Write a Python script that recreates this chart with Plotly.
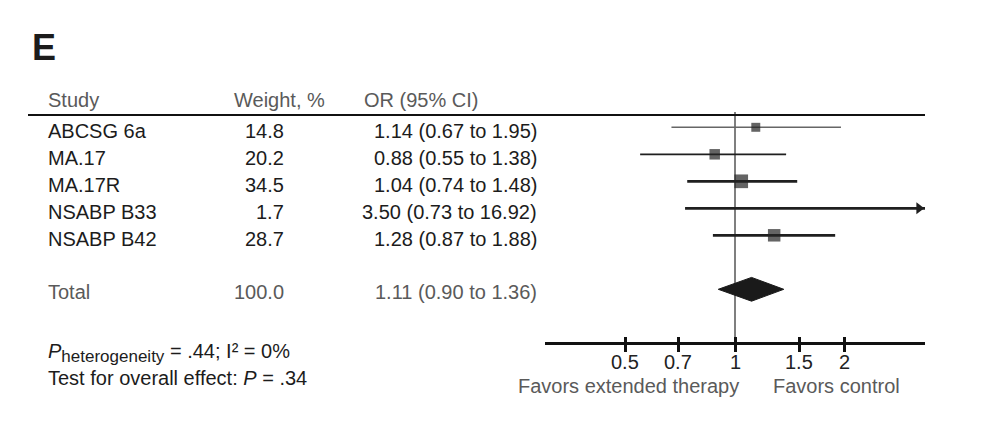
import math
import plotly.graph_objects as go

# ---------------- data ----------------
studies = ["ABCSG 6a", "MA.17", "MA.17R", "NSABP B33", "NSABP B42"]
weights = [14.8, 20.2, 34.5, 1.7, 28.7]
or_est = [1.14, 0.88, 1.04, 3.50, 1.28]
ci_lo = [0.67, 0.55, 0.74, 0.73, 0.87]
ci_hi = [1.95, 1.38, 1.48, 16.92, 1.88]

total_label = "Total"
total_weight = 100.0
total_est = 1.11
total_lo = 0.90
total_hi = 1.36

tick_vals = [0.5, 0.7, 1, 1.5, 2]
tick_text = ["0.5", "0.7", "1", "1.5", "2"]

panel_letter = "E"
headers = ["Study", "Weight, %", "OR (95% CI)"]
het_text = ("<i>P</i><sub><span style='font-size:17px'>heterogeneity</span></sub>"
            " = .44; I² = 0%")
overall_text = "Test for overall effect: <i>P</i> = .34"
favors_left = "Favors extended therapy"
favors_right = "Favors control"

# ---------------- layout helpers ----------------
W, H = 988, 422
OFF = 8                                   # page margin of the browser
FONT = "Liberation Sans, Arial, sans-serif"
FS = 20
DARK = "#1c1c1c"
GRAY = "#5a5a5a"
ROW0_PX, ROW_PX = 127.3, 27.0             # reference pixel of row 0, row spacing


def prow(py):
    """reference y pixel -> row units"""
    return (py - ROW0_PX) / ROW_PX


def pxx(px):
    """reference x pixel -> paper fraction"""
    return (px - OFF) / W


def pyy(py):
    """reference y pixel -> paper fraction"""
    return 1 - (py - OFF) / H


AX_L, AX_R = 545, 925                     # reference pixels of the axis ends
XR = 0.52                                 # log10 half range of the x axis
PX_PER_LOG = (AX_R - AX_L) / (2 * XR)
rows = list(range(len(studies)))
total_row = len(studies) + 1
axis_row = total_row + 2

fig = go.Figure()

# vertical line at OR = 1
fig.add_trace(go.Scatter(x=[1, 1], y=[prow(112), axis_row], mode="lines",
                         line=dict(color="#555555", width=1.5),
                         hoverinfo="skip", showlegend=False))

# confidence-interval lines (clipped by the plot area)
ci_colors = ["#666666", "#1f1f1f", "#1f1f1f", "#1f1f1f", "#1f1f1f"]
ci_widths = [1.6, 1.7, 2.8, 2.8, 2.8]
xmax = 10 ** XR
ARROW = 10.4                              # arrow-head marker size
for i, r in enumerate(rows):
    fig.add_trace(go.Scatter(x=[ci_lo[i], ci_hi[i]], y=[r, r], mode="lines",
                             line=dict(color=ci_colors[i], width=ci_widths[i]),
                             hoverinfo="skip", showlegend=False))
    if ci_hi[i] > xmax:
        # arrow head with its tip on the right end of the axis
        tip_back = (ARROW / 2) * 2 / math.sqrt(3) / PX_PER_LOG
        fig.add_trace(go.Scatter(x=[10 ** (XR - tip_back)], y=[r], mode="markers",
                                 marker=dict(symbol="triangle-right", size=ARROW,
                                             color=ci_colors[i], line=dict(width=0)),
                                 cliponaxis=False, hoverinfo="skip", showlegend=False))

# squares sized by weight
fig.add_trace(go.Scatter(x=or_est, y=rows, mode="markers",
                         marker=dict(symbol="square", color="#222222",
                                     size=[2.33 * math.sqrt(w) for w in weights],
                                     line=dict(width=0)),
                         cliponaxis=True, hoverinfo="skip", showlegend=False))

# pooled diamond
dh = 0.44
fig.add_trace(go.Scatter(x=[total_lo, total_est, total_hi, total_est, total_lo],
                         y=[total_row, total_row - dh, total_row, total_row + dh, total_row],
                         mode="lines", fill="toself", fillcolor="#1a1a1a",
                         line=dict(color="#1a1a1a", width=1),
                         hoverinfo="skip", showlegend=False))

# top rule
fig.add_shape(type="line", xref="paper", yref="y", x0=pxx(28), x1=pxx(925),
              y0=prow(115), y1=prow(115), line=dict(color="#111111", width=2.2))

ann = []


def txt(x, y, s, anchor="left", color=DARK, size=FS, xref="paper"):
    ann.append(dict(x=x, y=y, xref=xref, yref="y", text=s, showarrow=False,
                    xanchor=anchor, yanchor="middle",
                    font=dict(family=FONT, size=size, color=color)))


# panel letter
ann.append(dict(x=pxx(30), y=pyy(47), xref="paper", yref="paper",
                text="<b>" + panel_letter + "</b>", showarrow=False,
                xanchor="left", yanchor="middle",
                font=dict(family=FONT, size=36, color=DARK)))

# headers
txt(pxx(46), prow(100), headers[0], color=GRAY)
txt(pxx(232), prow(100), headers[1], color=GRAY)
txt(pxx(362), prow(100), headers[2], color=GRAY)

# study rows
for i, r in enumerate(rows):
    ypx = ROW0_PX + ROW_PX * r + 3.7
    txt(pxx(46), prow(ypx), studies[i])
    txt(pxx(286), prow(ypx), f"{weights[i]:.1f}", anchor="right")
    txt(pxx(539), prow(ypx), f"{or_est[i]:.2f} ({ci_lo[i]:.2f} to {ci_hi[i]:.2f})",
        anchor="right")

ypx = ROW0_PX + ROW_PX * total_row + 3.0
txt(pxx(46), prow(ypx), total_label, color=GRAY)
txt(pxx(286), prow(ypx), f"{total_weight:.1f}", anchor="right", color=GRAY)
txt(pxx(539), prow(ypx), f"{total_est:.2f} ({total_lo:.2f} to {total_hi:.2f})",
    anchor="right", color=GRAY)

# bottom-left statistics
txt(pxx(46), prow(353), het_text)
txt(pxx(46), prow(377.5), overall_text)

# tick labels placed on the log axis
for v, t in zip(tick_vals, tick_text):
    txt(math.log10(v), prow(361.5), t, anchor="center", color="#222222", xref="x")

# favors labels
txt(pxx(628), prow(386), favors_left, anchor="center", color=GRAY)
txt(pxx(836.5), prow(386), favors_right, anchor="center", color=GRAY)

axis_pos = pyy(ROW0_PX + ROW_PX * axis_row)

fig.update_layout(
    width=W, height=H, margin=dict(l=0, r=0, t=0, b=0),
    paper_bgcolor="white", plot_bgcolor="white",
    annotations=ann,
    xaxis=dict(type="log", range=[-XR, XR], domain=[pxx(AX_L), pxx(AX_R)],
               anchor="free", position=axis_pos,
               showline=True, linecolor="#111111", linewidth=3,
               ticks="outside", ticklen=6.5, tickwidth=2.5, tickcolor="#111111",
               tickvals=tick_vals, showticklabels=False,
               showgrid=False, zeroline=False, fixedrange=True),
    xaxis2=dict(type="log", range=[-XR, XR], overlaying="x",
                anchor="free", position=axis_pos,
                showline=False, ticks="inside", ticklen=6.5, tickwidth=2.5,
                tickcolor="#111111", tickvals=tick_vals, showticklabels=False,
                showgrid=False, zeroline=False, fixedrange=True),
    yaxis=dict(range=[prow(H + OFF), prow(OFF)], domain=[0, 1], visible=False,
               fixedrange=True),
    showlegend=False,
)

# invisible trace that activates the overlay axis carrying the upper tick halves
fig.add_trace(go.Scatter(x=[1], y=[axis_row], xaxis="x2", mode="markers",
                         marker=dict(opacity=0), hoverinfo="skip", showlegend=False))

fig.write_html("out.html")
